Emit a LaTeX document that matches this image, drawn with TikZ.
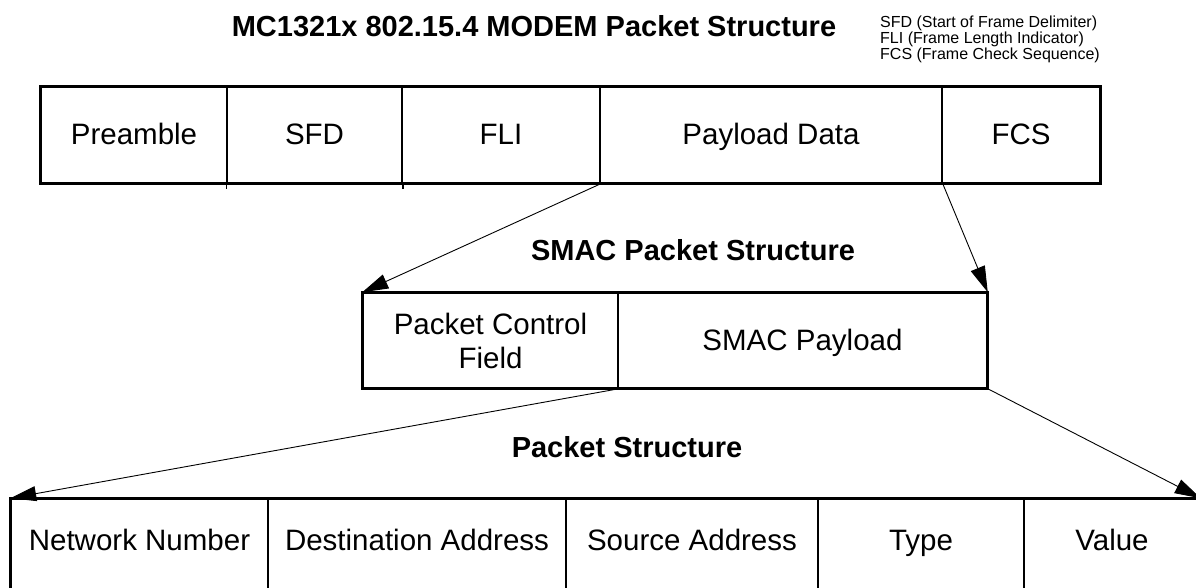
\documentclass[tikz,border=0pt]{standalone}
\usepackage{fontspec}
\setmainfont{Liberation Sans}
\usetikzlibrary{arrows.meta}
\tikzset{
  field/.style={draw, line width=1.5pt, inner sep=0pt, minimum height=96pt,
    text height=20pt, text depth=0pt, font=\fontsize{29.5}{34}\selectfont},
  lowfield/.style={field, minimum height=100pt, text depth=18pt},
  frame/.style={line width=2.5pt},
  heading/.style={font=\bfseries\fontsize{29}{34}\selectfont},
}
\begin{document}
\begin{tikzpicture}[x=1pt,y=-1pt,>={Triangle[length=26pt,width=15pt]}]
  \clip (0,0) rectangle (1196,588);
  \draw
    (534,26) node[heading] (title){MC1321x 802.15.4 MODEM Packet Structure}
    (880,39) node[anchor=west, align=left, inner sep=0pt, font=\fontsize{16}{16}\selectfont] (legend)
      {SFD (Start of Frame Delimiter)\\FLI (Frame Length Indicator)\\FCS (Frame Check Sequence)}
    (693,250) node[heading] (smactitle){SMAC Packet Structure}
    (627,447) node[heading] (pkttitle){Packet Structure};
  % MODEM packet
  \draw
    (134,135) node[field, minimum width=186pt] (preamble){Preamble}
    (314.5,135) node[field, minimum width=175pt] (sfd){SFD}
    (501,135) node[field, minimum width=198pt] (fli){FLI}
    (771,135) node[field, minimum width=342pt] (payload){Payload Data}
    (1021,135) node[field, minimum width=158pt] (fcs){FCS};
  \draw[frame] (preamble.north west) rectangle (fcs.south east);
  \draw[line width=1.5pt] (sfd.south west) -- ++(0,5) (sfd.south east) -- ++(0,5);
  % SMAC packet
  \draw
    (490.5,340.5) node[draw, line width=1.5pt, inner sep=0pt, minimum width=255pt, minimum height=95pt,
      align=center, font=\fontsize{29.5}{34}\selectfont] (pcf){Packet Control\\Field}
    (802.5,340.5) node[field, minimum width=369pt, minimum height=95pt] (smacpl){SMAC Payload};
  \draw[frame] (pcf.north west) rectangle (smacpl.south east);
  % payload packet
  \draw
    (139.5,549) node[lowfield, minimum width=257pt] (netnum){Network Number}
    (417,549) node[lowfield, minimum width=298pt] (dest){Destination Address}
    (692,549) node[lowfield, minimum width=252pt] (src){Source Address}
    (921,549) node[lowfield, minimum width=206pt] (type){Type}
    (1112,549) node[lowfield, minimum width=176pt] (value){Value};
  \draw[frame] (netnum.south west) -- (netnum.north west) -- (value.north east);
  \begin{scope}[->, line width=0.9pt]
    \draw (fli.south east) to (pcf.north west);
    \draw (payload.south east) to (smacpl.north east);
    \draw (pcf.south east) to (netnum.north west);
    \draw (smacpl.south east) to (value.north east);
  \end{scope}
\end{tikzpicture}
\end{document}
